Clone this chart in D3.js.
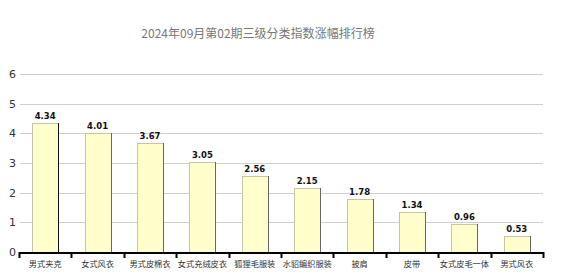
<!DOCTYPE html>
<html>
<head>
<meta charset="utf-8">
<script src="https://cdn.jsdelivr.net/npm/d3@7"></script>
<style>
  html, body { margin: 0; padding: 0; background: #fff; }
  svg { display: block; }
</style>
</head>
<body>
<svg id="chart" width="579" height="279"></svg>
<script>
// Chart content
const titleText = "2024年09月第02期三级分类指数涨幅排行榜";
const categories = ["男式夹克", "女式风衣", "男式皮棉衣", "女式充绒皮衣", "狐狸毛服装", "水貂编织服装", "披肩", "皮带", "女式皮毛一体", "男式风衣"];
const values = [4.34, 4.01, 3.67, 3.05, 2.56, 2.15, 1.78, 1.34, 0.96, 0.53];
const yTicks = [0, 1, 2, 3, 4, 5, 6];

const W = 579, H = 279;
const margin = { left: 19, right: 36, top: 74, bottom: 27 };
const svg = d3.select("#chart");

const x = d3.scaleBand()
  .domain(categories)
  .range([margin.left, W - margin.right])
  .paddingInner(0.5)
  .paddingOuter(0.25);

const y = d3.scaleLinear()
  .domain([0, 6])
  .range([H - margin.bottom, margin.top]);

// Title
svg.append("text")
  .attr("x", 258)
  .attr("y", 38)
  .attr("text-anchor", "middle")
  .attr("font-family", "'Noto Sans CJK SC', sans-serif")
  .attr("font-size", 12)
  .attr("fill", "#777")
  .text(titleText);

// Horizontal grid lines
svg.append("g")
  .selectAll("line")
  .data(yTicks.filter(d => d > 0))
  .join("line")
  .attr("x1", margin.left + 1)
  .attr("x2", W - margin.right)
  .attr("y1", d => Math.round(y(d)) + 0.5)
  .attr("y2", d => Math.round(y(d)) + 0.5)
  .attr("stroke", "#cfcfcf")
  .attr("stroke-width", 1);

// Y axis labels
const yAxis = d3.axisLeft(y).tickValues(yTicks).tickFormat(d3.format("d")).tickSize(0).tickPadding(0);
const yG = svg.append("g")
  .attr("transform", `translate(${margin.left - 3},0)`)
  .call(yAxis);
yG.select(".domain").remove();
yG.selectAll("text")
  .attr("font-family", "'DejaVu Sans', Verdana, sans-serif")
  .attr("font-size", 11)
  .attr("fill", "#333");

// Bars
const bars = svg.append("g");
bars.selectAll("rect")
  .data(values)
  .join("rect")
  .attr("x", (d, i) => Math.round(x(categories[i])) + 0.5)
  .attr("y", d => Math.round(y(d)) + 0.5)
  .attr("width", Math.round(x.bandwidth()))
  .attr("height", d => Math.round(y(0)) - Math.round(y(d)))
  .attr("fill", "#ffffcc")
  .attr("stroke", "#c4c4a8")
  .attr("stroke-width", 1);

// Darker right edge of each bar
bars.selectAll("line")
  .data(values)
  .join("line")
  .attr("x1", (d, i) => Math.round(x(categories[i])) + Math.round(x.bandwidth()) + 0.5)
  .attr("x2", (d, i) => Math.round(x(categories[i])) + Math.round(x.bandwidth()) + 0.5)
  .attr("y1", d => Math.round(y(d)))
  .attr("y2", y(0))
  .attr("stroke", (d, i) => i === 0 ? "#111" : "#666")
  .attr("stroke-width", 1);

// Value labels
svg.append("g")
  .selectAll("text")
  .data(values)
  .join("text")
  .attr("x", (d, i) => x(categories[i]) + x.bandwidth() / 2)
  .attr("y", d => y(d) - 4)
  .attr("text-anchor", "middle")
  .attr("font-family", "'DejaVu Sans', Verdana, sans-serif")
  .attr("font-weight", "bold")
  .attr("font-size", 8.5)
  .attr("fill", "#111")
  .text(d => d.toFixed(2));

// X axis line with boundary ticks
const x0 = margin.left;
const x1 = W - margin.right;
const base = Math.round(y(0));
svg.append("line")
  .attr("x1", x0).attr("x2", x1 + 1)
  .attr("y1", base + 1).attr("y2", base + 1)
  .attr("stroke", "#000").attr("stroke-width", 2);
const bounds = d3.range(categories.length + 1).map(i => x0 + i * (x1 - x0) / categories.length);
svg.append("g")
  .selectAll("line")
  .data(bounds)
  .join("line")
  .attr("x1", d => Math.round(d) + 0.5)
  .attr("x2", d => Math.round(d) + 0.5)
  .attr("y1", base)
  .attr("y2", base + 6)
  .attr("stroke", "#000")
  .attr("stroke-width", 2);

// Category labels
svg.append("g")
  .selectAll("text")
  .data(categories)
  .join("text")
  .attr("x", d => x(d) + x.bandwidth() / 2)
  .attr("y", base + 15)
  .attr("text-anchor", "middle")
  .attr("font-family", "'Noto Sans CJK SC', sans-serif")
  .attr("font-size", 8.2)
  .attr("fill", "#333")
  .text(d => d);
</script>
</body>
</html>
